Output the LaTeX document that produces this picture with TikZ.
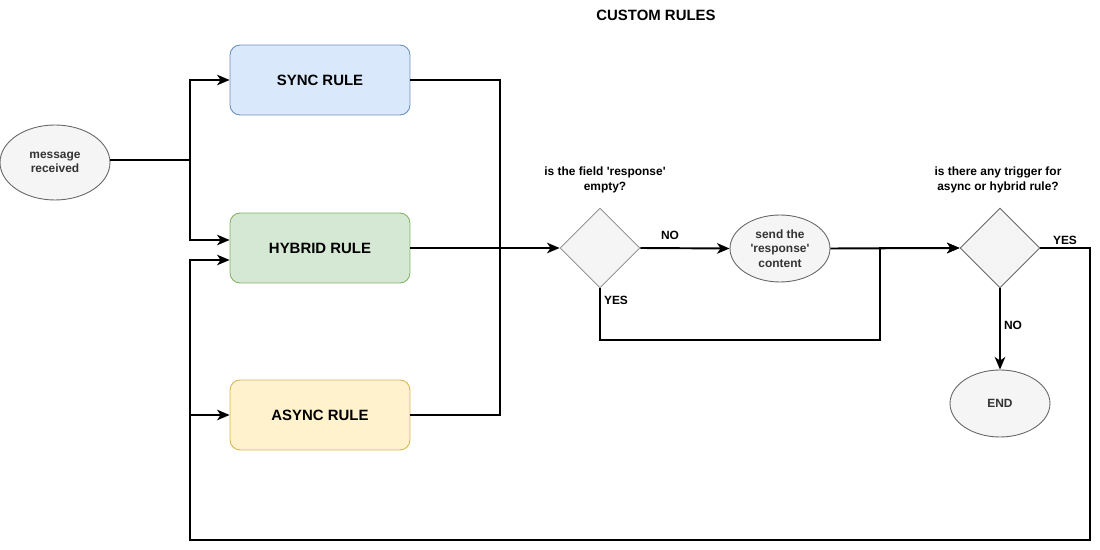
\documentclass[tikz,border=0pt]{standalone}
\usepackage{fontspec}
\newfontfamily\drawfont{Liberation Sans}
\usetikzlibrary{shapes.geometric,arrows.meta,calc}
\definecolor{syncfill}{HTML}{DAE8FC}
\definecolor{syncdraw}{HTML}{6C8EBF}
\definecolor{hybridfill}{HTML}{D5E8D4}
\definecolor{hybriddraw}{HTML}{82B366}
\definecolor{asyncfill}{HTML}{FFF2CC}
\definecolor{asyncdraw}{HTML}{D6B656}
\definecolor{ovalfill}{HTML}{F5F5F5}
\definecolor{ovaldraw}{HTML}{666666}
\definecolor{ovaltext}{HTML}{333333}

\begin{document}
\begin{tikzpicture}[x=0.02cm,y=-0.02cm,
    font=\drawfont\bfseries\fontsize{6.8}{8.3}\selectfont,
    rulebox/.style={draw, rounded corners=0.2cm, minimum width=3.6cm, minimum height=1.4cm,
        line width=0.5pt, font=\drawfont\bfseries\fontsize{8.5}{10}\selectfont},
    oval/.style={ellipse, draw=ovaldraw, fill=ovalfill, text=ovaltext, line width=0.5pt,
        minimum width=2cm, minimum height=1.34cm, inner sep=0pt, align=center},
    choice/.style={diamond, draw=ovaldraw, fill=ovalfill, line width=0.5pt, aspect=1,
        minimum width=1.6cm, minimum height=1.6cm, inner sep=0pt},
    conn/.style={line width=1.1pt},
    arrow/.style={conn, -{Stealth[length=2.5mm,width=2.1mm,inset=0.7mm]}}]
    \useasboundingbox (0,0) rectangle (1100,550);

    % shapes
    \node (title) at (656,15) {\fontsize{8.5}{10}\selectfont CUSTOM RULES};
    \node[oval, minimum width=2.2cm, minimum height=1.5cm] (msg) at (55,162.5) {message\\received};
    \node[rulebox, draw=syncdraw, fill=syncfill] (sync) at (320,80) {SYNC RULE};
    \node[rulebox, draw=hybriddraw, fill=hybridfill] (hybrid) at (320,248) {HYBRID RULE};
    \node[rulebox, draw=asyncdraw, fill=asyncfill] (async) at (320,415) {ASYNC RULE};
    \node[choice, draw=ovaldraw!70] (check) at (600,248) {};
    \node[align=center] (askresp) at (605,180) {is the field 'response'\\empty?};
    \node[oval] (send) at (780,248.5) {send the\\'response'\\content};
    \node[choice] (trigger) at (1000,248) {};
    \node[align=center] (asktrig) at (998,180) {is there any trigger for\\async or hybrid rule?};
    \node[oval] (end) at (1000,403.5) {END};

    % corners
    \coordinate (fork) at (190,160);
    \coordinate (branch) at (190,415);
    \coordinate (merge) at (500,248);
    \coordinate (bypass) at (880,340);
    \coordinate (back) at (1090,540);

    % connectors
    \draw[conn] (msg.east |- fork) -- (fork);
    \draw[arrow] (fork) |- (sync);
    \draw[arrow] (fork) |- ($(hybrid.west)+(0,-8)$);
    \draw[conn] (sync.east) -| (merge);
    \draw[conn] (async.east) -| (merge);
    \draw[arrow] (hybrid.east) -- (check.west);
    \draw[arrow] (check.east) -- (send.west);
    \draw[arrow] (check.south) |- (bypass) |- (trigger.west);
    \draw[arrow] (send.east) -- (trigger.west);
    \draw[arrow] (trigger.south) -- (end.north);
    \draw[arrow] (trigger.east) -| (back) -| ($(hybrid.west)+(-40,12)$) -- ($(hybrid.west)+(0,12)$);
    \draw[arrow] (branch) -- (async.west);

    % labels
    \node (noresp) at (670,235) {NO};
    \node (yesresp) at (616,300) {YES};
    \node (yestrig) at (1065,240) {YES};
    \node (notrig) at (1013,325) {NO};
\end{tikzpicture}
\end{document}
